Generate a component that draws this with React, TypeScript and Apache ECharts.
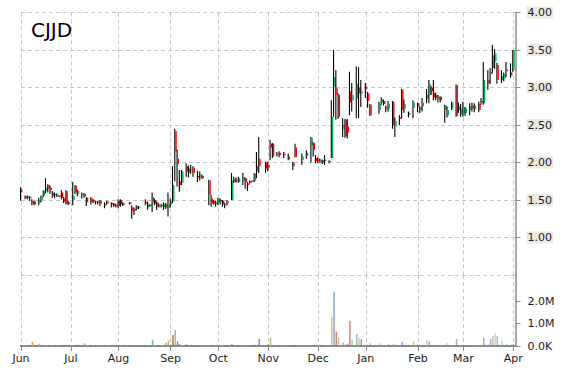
import React, { useEffect, useRef } from "react";
import * as echarts from "echarts";

const TITLE = "CJJD";
const FIRST_DAY = "2017-06-01";
const LAST_DAY = "2018-04-03";
const MONTH_NAMES = ["Jan", "Feb", "Mar", "Apr", "May", "Jun", "Jul", "Aug", "Sep", "Oct", "Nov", "Dec"];

const PRICE_MIN = 0.5;
const PRICE_MAX = 4.0;
const PRICE_STEP = 0.5;
const VOLUME_TICKS = [0, 1e6, 2e6];

// [open, close, low, high] per weekday, null = no candle
type Candle = [number, number, number, number] | null;

const candlesJunAug: Candle[] = [
  [1.64, 1.6, 1.49, 1.67], null, [1.55, 1.53, 1.51, 1.56], [1.53, 1.55, 1.51, 1.56], [1.52, 1.54, 1.49, 1.55],
  [1.49, 1.45, 1.43, 1.51], [1.48, 1.44, 1.43, 1.49], null, [1.46, 1.5, 1.43, 1.53], [1.5, 1.55, 1.47, 1.56],
  [1.56, 1.62, 1.54, 1.63], [1.62, 1.66, 1.59, 1.79], [1.7, 1.65, 1.6, 1.71], [1.66, 1.63, 1.58, 1.69], [1.55, 1.6, 1.53, 1.62],
  [1.56, 1.58, 1.53, 1.6], [1.57, 1.56, 1.54, 1.59], [1.56, 1.55, 1.54, 1.56], [1.6, 1.53, 1.51, 1.63], [1.52, 1.48, 1.46, 1.54],
  [1.62, 1.45, 1.44, 1.63], [1.47, 1.45, 1.43, 1.49],
  // Jul
  null, [1.5, 1.56, 1.43, 1.74], [1.69, 1.6, 1.58, 1.7], [1.58, 1.62, 1.55, 1.64], null,
  [1.56, 1.59, 1.52, 1.6], [1.58, 1.55, 1.53, 1.59], [1.53, 1.47, 1.42, 1.54], null, [1.52, 1.47, 1.44, 1.54],
  [1.5, 1.48, 1.46, 1.51], [1.48, 1.47, 1.44, 1.49], [1.46, 1.48, 1.44, 1.49], [1.49, 1.45, 1.42, 1.5], null,
  [1.45, 1.43, 1.39, 1.47], [1.48, 1.45, 1.44, 1.49], null, [1.46, 1.44, 1.4, 1.47], [1.45, 1.42, 1.41, 1.46],
  [1.43, 1.42, 1.4, 1.45],
  // Aug
  [1.49, 1.42, 1.39, 1.51], [1.5, 1.44, 1.41, 1.51], [1.46, 1.43, 1.42, 1.47], null, null,
  [1.47, 1.45, 1.44, 1.47], [1.4, 1.35, 1.25, 1.43], [1.38, 1.36, 1.3, 1.4], [1.38, 1.42, 1.36, 1.43], [1.4, 1.41, 1.38, 1.42],
  null, null, [1.47, 1.45, 1.43, 1.51], [1.4, 1.45, 1.37, 1.48], [1.44, 1.42, 1.41, 1.44],
  [1.47, 1.54, 1.34, 1.6], [1.5, 1.45, 1.43, 1.52], [1.47, 1.41, 1.37, 1.48], [1.43, 1.42, 1.4, 1.45], [1.42, 1.43, 1.4, 1.45],
  [1.4, 1.45, 1.37, 1.47], [1.44, 1.4, 1.38, 1.46], [1.39, 1.44, 1.28, 1.6],
];

const candlesSepNov: Candle[] = [
  [1.44, 1.48, 1.4, 1.52], [1.48, 1.7, 1.46, 1.95], [2.42, 2.15, 1.75, 2.45], [2.05, 1.98, 1.68, 2.17], [1.75, 1.7, 1.61, 1.9],
  [1.73, 1.88, 1.7, 1.9], null, [1.95, 1.88, 1.81, 1.99], [1.86, 1.92, 1.8, 1.96], [1.9, 1.91, 1.85, 1.97],
  [1.93, 1.86, 1.81, 1.95], null, [1.82, 1.8, 1.74, 1.89], [1.8, 1.84, 1.76, 1.88], [1.82, 1.79, 1.78, 1.84],
  null, null, [1.76, 1.57, 1.43, 1.77], [1.52, 1.46, 1.41, 1.57], [1.49, 1.45, 1.44, 1.5],
  [1.45, 1.47, 1.41, 1.49],
  // Oct
  [1.47, 1.52, 1.43, 1.53], [1.5, 1.48, 1.44, 1.52], [1.49, 1.44, 1.41, 1.5], [1.44, 1.43, 1.39, 1.46], [1.48, 1.46, 1.43, 1.5],
  null, [1.5, 1.76, 1.5, 1.86], [1.78, 1.74, 1.73, 1.81], [1.76, 1.77, 1.73, 1.8], [1.74, 1.79, 1.73, 1.81],
  null, [1.76, 1.81, 1.7, 1.86], [1.79, 1.74, 1.65, 1.8], [1.72, 1.7, 1.62, 1.74], [1.75, 1.73, 1.72, 1.76],
  [1.76, 1.75, 1.74, 1.76], [1.76, 1.85, 1.74, 1.86], [1.88, 1.95, 1.79, 2.14], [2.05, 1.95, 1.86, 2.34], null,
  null, [2.0, 1.92, 1.86, 2.01],
  // Nov
  [1.97, 1.93, 1.88, 2.01], [2.25, 2.2, 2.03, 2.3], [2.25, 2.08, 2.06, 2.26], null, [2.1, 2.12, 2.08, 2.14],
  [2.13, 2.1, 2.07, 2.15], null, [2.12, 2.1, 2.06, 2.14], null, [2.08, 2.04, 2.03, 2.12],
  null, [2.0, 1.95, 1.9, 2.01], [2.2, 2.07, 2.07, 2.25], null, null,
  [2.03, 2.08, 1.97, 2.12], null, [2.09, 2.13, 2.05, 2.16], null, [2.23, 2.33, 2.0, 2.34],
  [2.26, 2.17, 2.08, 2.27], [2.06, 2.02, 1.99, 2.1],
];

const candlesDecApr: Candle[] = [
  [2.05, 2.02, 1.99, 2.07], [2.01, 2.03, 1.99, 2.05], [2.03, 2.0, 1.98, 2.04], [2.02, 2.04, 1.97, 2.1], null,
  [2.02, 2.01, 1.99, 2.03], [2.06, 2.61, 2.06, 2.83], [3.01, 3.14, 2.61, 3.5], [2.99, 2.9, 2.57, 3.23], [2.9, 2.61, 2.58, 2.92],
  null, [2.45, 2.5, 2.34, 2.59], [2.57, 2.35, 2.33, 2.58], [2.48, 2.4, 2.32, 2.58], [2.95, 2.8, 2.63, 3.21],
  [2.83, 2.9, 2.68, 3.06], null, [2.85, 3.05, 2.59, 3.28], [3.0, 2.92, 2.59, 3.27], [2.92, 2.95, 2.74, 3.1],
  null,
  // Jan
  [3.01, 2.98, 2.86, 3.06], [2.92, 2.82, 2.73, 2.94], [2.77, 2.63, 2.62, 2.78], null, null,
  null, [2.7, 2.78, 2.65, 2.81], [2.8, 2.84, 2.77, 2.87], [2.82, 2.78, 2.76, 2.84], [2.74, 2.72, 2.67, 2.76],
  [2.72, 2.78, 2.68, 2.82], null, [2.81, 2.5, 2.45, 2.82], [2.48, 2.55, 2.34, 2.6], null,
  [2.6, 2.58, 2.5, 2.63], [2.97, 2.7, 2.59, 2.98], [2.72, 2.78, 2.66, 2.84], null, [2.66, 2.64, 2.6, 2.68],
  null, [2.73, 2.8, 2.59, 2.83], null,
  // Feb
  [2.79, 2.75, 2.67, 2.8], [2.7, 2.74, 2.66, 2.75], [2.75, 2.8, 2.68, 2.86], null, [2.85, 2.9, 2.79, 2.98],
  [2.9, 3.05, 2.79, 3.1], [3.0, 2.95, 2.9, 3.02], [2.93, 2.87, 2.83, 3.1], [2.9, 2.86, 2.83, 2.93], [2.84, 2.88, 2.8, 2.9],
  [2.88, 2.83, 2.8, 2.88], null, [2.7, 2.76, 2.53, 2.77], [2.63, 2.7, 2.6, 2.75], null,
  [2.72, 2.8, 2.7, 2.81], null, [3.03, 2.62, 2.61, 3.04], [2.7, 2.75, 2.66, 2.8], [2.64, 2.72, 2.61, 2.78],
  // Mar
  [2.65, 2.74, 2.61, 2.81], [2.66, 2.72, 2.62, 2.74], null, [2.7, 2.75, 2.63, 2.79], [2.76, 2.72, 2.68, 2.8],
  [2.71, 2.76, 2.67, 2.79], null, [2.78, 2.7, 2.67, 2.81], [2.82, 2.8, 2.77, 2.86], [2.79, 3.1, 2.77, 3.34],
  null, [3.1, 3.05, 2.97, 3.23], [3.2, 3.18, 3.05, 3.26], [3.26, 3.43, 3.19, 3.57], [3.35, 3.45, 3.25, 3.51],
  [3.3, 3.1, 3.05, 3.33], null, [3.1, 3.15, 3.06, 3.23], [3.12, 3.18, 3.08, 3.2], [3.24, 3.22, 3.14, 3.34],
  null, [3.2, 3.16, 3.13, 3.32],
  // Apr
  [3.23, 3.5, 3.21, 3.5], null,
];

// volume in millions of shares, per weekday
const volumeJunAug = [
  0.04, 0, 0.03, 0.04, 0.05, 0.19, 0.04, 0, 0.1, 0.04, 0.05, 0.03, 0.04, 0.03, 0.04, 0.03, 0.04, 0.02, 0.05, 0.04, 0.04, 0.03,
  0, 0.05, 0.04, 0.05, 0, 0.04, 0.12, 0.05, 0, 0.04, 0.03, 0.04, 0.04, 0.03, 0, 0.04, 0.04, 0, 0.04, 0.03, 0.04,
  0.04, 0.05, 0.03, 0, 0, 0.04, 0.04, 0.03, 0.04, 0.03, 0, 0, 0.04, 0.05, 0.03, 0.27, 0.05, 0.04, 0.03, 0.04, 0.05, 0.15, 0.24,
];
const volumeSepNov = [
  0.06, 0.49, 0.71, 0.2, 0.09, 0.05, 0, 0.07, 0.04, 0.03, 0.04, 0, 0.04, 0.03, 0.04, 0, 0, 0.05, 0.04, 0.04, 0.03,
  0.04, 0.04, 0.03, 0.04, 0.03, 0, 0.08, 0.04, 0.03, 0.04, 0, 0.05, 0.04, 0.03, 0.03, 0.04, 0.05, 0.06, 0.31, 0, 0, 0.04,
  0.08, 0.37, 0.05, 0, 0.04, 0.03, 0, 0.04, 0, 0.04, 0, 0.03, 0.05, 0, 0, 0.04, 0, 0.04, 0, 0.06, 0.04, 0.03,
];
const volumeDecApr = [
  0.03, 0.04, 0.03, 0.04, 0, 0.03, 1.3, 2.41, 0.64, 0.37, 0, 0.15, 0.08, 0.1, 1.12, 0.28, 0, 0.53, 0.37, 0.31, 0,
  0.07, 0.05, 0.12, 0, 0, 0, 0.12, 0.04, 0.05, 0.04, 0.07, 0, 0.1, 0.06, 0, 0.05, 0.19, 0.05, 0, 0.04, 0, 0.22, 0,
  0.05, 0.04, 0.05, 0, 0.27, 0.2, 0.05, 0.06, 0.04, 0.05, 0.04, 0, 0.05, 0.13, 0, 0.05, 0, 0.31, 0.05, 0.04,
  0.05, 0.04, 0, 0.04, 0.05, 0.04, 0, 0.05, 0.06, 0.37, 0, 0.08, 0.31, 0.46, 0.59, 0.44, 0, 0.22, 0.05, 0.1, 0, 0.06,
  0.08, 0,
];

const VOLUME_COLORS = ["#4F81BD", "#C0504D", "#9BBB59", "#8064A2", "#4BACC6", "#F79646"];

function weekdays(from: string, to: string): string[] {
  const out: string[] = [];
  const d = new Date(from + "T00:00:00Z");
  const end = new Date(to + "T00:00:00Z");
  while (d <= end) {
    const wd = d.getUTCDay();
    if (wd !== 0 && wd !== 6) out.push(d.toISOString().slice(0, 10));
    d.setUTCDate(d.getUTCDate() + 1);
  }
  return out;
}

export default function App() {
  const ref = useRef<HTMLDivElement>(null);

  useEffect(() => {
    if (!ref.current) return;
    const chart = echarts.init(ref.current, undefined, { renderer: "svg" });

    const dates = weekdays(FIRST_DAY, LAST_DAY);
    const candles = [...candlesJunAug, ...candlesSepNov, ...candlesDecApr];
    const volumes = [...volumeJunAug, ...volumeSepNov, ...volumeDecApr];

    const isMonthStart = (idx: number) =>
      idx === 0 || dates[idx].slice(5, 7) !== dates[idx - 1].slice(5, 7);
    const monthLabel = (v: string) => MONTH_NAMES[parseInt(v.slice(5, 7), 10) - 1];

    const candleData: number[][] = [];
    candles.forEach((c, i) => {
      if (c) candleData.push([i, c[0], c[1], c[2], c[3]]);
    });

    const n = dates.length;
    const volData = dates.map((_, i) => ({
      value: (volumes[i] || 0) * 1e6,
      itemStyle: {
        color: VOLUME_COLORS[i % VOLUME_COLORS.length],
        opacity: 1 - 0.45 * (i / (n - 1)),
      },
    }));

    const gridLine = { show: true, lineStyle: { color: "#c8c8c8", type: [4, 3] as any, width: 1 } };
    const font = "DejaVu Sans";

    chart.setOption({
      animation: false,
      backgroundColor: "#ffffff",
      title: {
        text: TITLE,
        left: 26,
        top: 15,
        textStyle: { fontFamily: font, fontSize: 20, fontWeight: "normal", color: "#000" },
      },
      grid: [
        { left: 21, right: 54.5, top: 12.5, height: 262.5 },
        { left: 21, right: 54.5, top: 275, height: 71 },
      ],
      xAxis: [
        {
          type: "category",
          gridIndex: 0,
          data: dates,
          boundaryGap: false,
          axisLine: { show: false },
          axisTick: { show: false },
          axisLabel: { show: false },
          splitLine: { ...gridLine, interval: (i: number) => isMonthStart(i) },
        },
        {
          type: "category",
          gridIndex: 1,
          data: dates,
          boundaryGap: false,
          axisLine: { show: true, lineStyle: { color: "#8c8c8c", width: 2 } },
          axisTick: { show: true, length: 5, interval: (i: number) => isMonthStart(i), lineStyle: { color: "#8c8c8c", width: 1 } },
          axisLabel: {
            interval: (i: number) => isMonthStart(i),
            formatter: (v: string) => monthLabel(v),
            fontFamily: font,
            fontSize: 11,
            color: "#1a1a1a",
            margin: 7,
          },
          splitLine: { ...gridLine, interval: (i: number) => isMonthStart(i) },
        },
      ],
      yAxis: [
        {
          type: "value",
          gridIndex: 0,
          position: "right",
          min: PRICE_MIN,
          max: PRICE_MAX,
          interval: PRICE_STEP,
          axisLine: { show: true, lineStyle: { color: "#8c8c8c", width: 1.5 } },
          axisTick: { show: true, length: 5, lineStyle: { color: "#8c8c8c" } },
          axisLabel: {
            showMinLabel: false,
            formatter: (v: number) => v.toFixed(2),
            fontFamily: font,
            fontSize: 11,
            color: "#1a1a2a",
            backgroundColor: "#ECEAE0",
            padding: [1, 1, 0, 1],
            margin: 11,
          },
          splitLine: gridLine,
        },
        {
          type: "value",
          gridIndex: 1,
          position: "right",
          min: 0,
          max: (71 / 22.5) * 1e6,
          axisLine: { show: true, lineStyle: { color: "#8c8c8c", width: 1.5 } },
          axisTick: { show: true, length: 5, customValues: VOLUME_TICKS, lineStyle: { color: "#8c8c8c" } },
          axisLabel: {
            customValues: VOLUME_TICKS,
            formatter: (v: number) => (v === 0 ? "0.0K" : (v / 1e6).toFixed(1) + "M"),
            fontFamily: font,
            fontSize: 11,
            color: "#1a1a2a",
            margin: 12,
          },
          splitLine: { show: false },
        },
      ],
      series: [
        {
          type: "custom",
          xAxisIndex: 0,
          yAxisIndex: 0,
          data: candleData,
          encode: { x: 0, y: [1, 2, 3, 4] },
          renderItem: (params: any, api: any) => {
            const i = api.value(0);
            const o = api.value(1);
            const c = api.value(2);
            const l = api.value(3);
            const h = api.value(4);
            const pH = api.coord([i, h]);
            const pL = api.coord([i, l]);
            const pO = api.coord([i, o]);
            const pC = api.coord([i, c]);
            const x = pH[0];
            const up = c >= o;
            const top = Math.min(pO[1], pC[1]);
            const bh = Math.max(Math.abs(pO[1] - pC[1]), 1);
            return {
              type: "group",
              children: [
                {
                  type: "rect",
                  shape: { x: x - 1, y: pH[1], width: 1.1, height: Math.max(pL[1] - pH[1], 1) },
                  style: { fill: "#000" },
                },
                {
                  type: "rect",
                  shape: { x: x + 0.1, y: top, width: 1.4, height: bh },
                  style: { fill: up ? "#00B050" : "#FF0000" },
                },
              ],
            };
          },
        },
        {
          type: "bar",
          xAxisIndex: 1,
          yAxisIndex: 1,
          data: volData,
          barWidth: 1.5,
        },
      ],
    });

    return () => chart.dispose();
  }, []);

  return (
    <div
      ref={ref}
      style={{ position: "absolute", left: 0, top: 0, width: 570, height: 370 }}
    />
  );
}
